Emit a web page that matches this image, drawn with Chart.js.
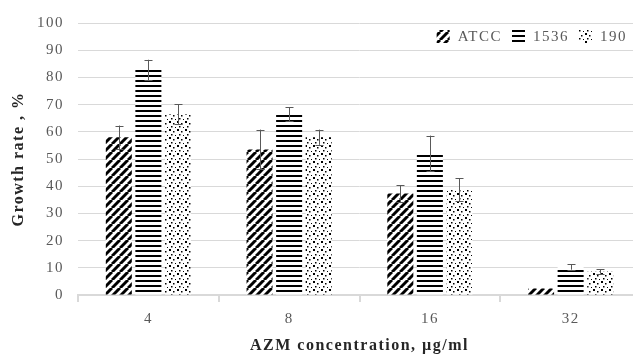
<!DOCTYPE html>
<html lang="en">
<head>
    <meta charset="UTF-8">
    <title>Growth rate vs AZM concentration</title>
    <style>
        html, body {
            margin: 0;
            padding: 0;
            background: #fff;
            overflow: hidden;
        }

        #chart-container {
            width: 643px;
            height: 355px;
        }
    </style>
</head>
<body>
    <div id="chart-container">
        <canvas id="growth-chart"></canvas>
    </div>
    <script src="https://cdn.jsdelivr.net/npm/chart.js"></script>
    <script>
    const categories = ['4', '8', '16', '32'];
    const seriesNames = ['ATCC', '1536', '190'];
    const atccValues = [58, 53.5, 37.3, 2.4];
    const atccErrors = [4.3, 7.3, 3.1, 0];
    const s1536Values = [82.7, 66.4, 52.1, 10.3];
    const s1536Errors = [3.8, 2.6, 6.5, 1.0];
    const s190Values = [66.4, 58, 38.7, 8.6];
    const s190Errors = [3.7, 2.8, 4.3, 0.8];
    const yTicks = [0, 10, 20, 30, 40, 50, 60, 70, 80, 90, 100];

    // little tiles for the fill patterns
    function makePattern(kind) {
        const c = document.createElement('canvas');
        const g = c.getContext('2d');
        if (kind === 'diag') {
            c.width = 8; c.height = 8;
            g.fillStyle = '#fff'; g.fillRect(0, 0, 8, 8);
            g.strokeStyle = '#000'; g.lineWidth = 3;
            for (let k = -8; k <= 16; k += 8) {
                g.beginPath();
                g.moveTo(k, 8);
                g.lineTo(k + 8, 0);
                g.stroke();
            }
        } else if (kind === 'hlines') {
            c.width = 4; c.height = 5;
            g.fillStyle = '#fff'; g.fillRect(0, 0, 4, 5);
            g.fillStyle = '#000'; g.fillRect(0, 0, 4, 2);
        } else {
            c.width = 8; c.height = 8;
            g.fillStyle = '#fff'; g.fillRect(0, 0, 8, 8);
            g.fillStyle = '#000';
            g.fillRect(1, 1, 2, 2);
            g.fillRect(5, 3, 1.5, 1.5);
            g.fillRect(3, 6, 1.5, 1.5);
            g.fillRect(7, 7, 1, 1);
        }
        return g.createPattern(c, 'repeat');
    }

    // the source rendering has loose letter spacing everywhere
    const spacing = {
        id: 'spacing',
        beforeLayout(chart) { chart.ctx.letterSpacing = '1.5px'; },
        beforeDraw(chart) { chart.ctx.letterSpacing = '1.5px'; }
    };

    const errorBars = {
        id: 'errorBars',
        afterDatasetsDraw(chart) {
            const ctx = chart.ctx;
            const y = chart.scales.y;
            ctx.save();
            ctx.strokeStyle = '#595959';
            ctx.lineWidth = 1;
            chart.data.datasets.forEach((ds, i) => {
                const meta = chart.getDatasetMeta(i);
                meta.data.forEach((bar, j) => {
                    const e = ds.errors[j];
                    if (!e) return;
                    const top = y.getPixelForValue(ds.data[j] + e);
                    const bot = y.getPixelForValue(ds.data[j] - e);
                    const x = Math.round(bar.x) + 0.5;
                    ctx.beginPath();
                    ctx.moveTo(x, top); ctx.lineTo(x, bot);
                    ctx.moveTo(x - 4, Math.round(top) + 0.5); ctx.lineTo(x + 4, Math.round(top) + 0.5);
                    ctx.moveTo(x - 4, Math.round(bot) + 0.5); ctx.lineTo(x + 4, Math.round(bot) + 0.5);
                    ctx.stroke();
                });
            });
            ctx.restore();
        }
    };

    // legend drawn inside the plot, top right
    const insideLegend = {
        id: 'insideLegend',
        afterDraw(chart) {
            const ctx = chart.ctx;
            const area = chart.chartArea;
            ctx.save();
            ctx.font = '15px "Liberation Serif"';
            ctx.textBaseline = 'middle';
            const cy = area.top + 13;
            let x = 627;
            const items = chart.data.datasets.slice().reverse();
            items.forEach((ds) => {
                const w = ctx.measureText(ds.label).width;
                x -= w;
                ctx.fillStyle = '#595959';
                ctx.fillText(ds.label, x, cy + 1);
                x -= 8 + 13;
                ctx.fillStyle = ds.backgroundColor;
                ctx.fillRect(x, cy - 6, 13, 13);
                x -= 10;
            });
            ctx.restore();
        }
    };

    const ctx = document.getElementById('growth-chart').getContext('2d');
    const growthChart = new Chart(ctx, {
        type: 'bar',
        data: {
            labels: categories,
            datasets: [
                { label: seriesNames[0], data: atccValues, errors: atccErrors, backgroundColor: makePattern('diag') },
                { label: seriesNames[1], data: s1536Values, errors: s1536Errors, backgroundColor: makePattern('hlines') },
                { label: seriesNames[2], data: s190Values, errors: s190Errors, backgroundColor: makePattern('dots') }
            ]
        },
        options: {
            responsive: true,
            maintainAspectRatio: false,
            animation: false,
            layout: { padding: { top: 21, right: 2, left: 0, bottom: 0 } },
            datasets: {
                bar: { categoryPercentage: 0.63, barPercentage: 0.88, borderWidth: 0 }
            },
            plugins: {
                tooltip: { enabled: false },
                legend: { display: false }
            },
            scales: {
                x: {
                    grid: { drawOnChartArea: false, color: '#d9d9d9', tickLength: 7, lineWidth: 2 },
                    border: { color: '#d9d9d9', width: 2 },
                    ticks: { color: '#595959', padding: 8, font: { family: 'Liberation Serif', size: 15 } },
                    title: {
                        display: true,
                        text: 'AZM concentration, µg/ml',
                        color: '#262626',
                        padding: { top: 7, bottom: 0 },
                        font: { family: 'Liberation Serif', size: 16, weight: 'bold' }
                    },
                    afterFit(scale) { scale.height = 60; }
                },
                y: {
                    min: 0,
                    max: 100,
                    afterBuildTicks(scale) { scale.ticks = yTicks.map(v => ({ value: v })); },
                    grid: { color: '#d9d9d9', lineWidth: 1, drawTicks: false },
                    border: { display: false },
                    ticks: { color: '#595959', padding: 14, font: { family: 'Liberation Serif', size: 15 } },
                    title: {
                        display: true,
                        text: 'Growth rate , %',
                        color: '#262626',
                        padding: { top: 9, bottom: 0 },
                        font: { family: 'Liberation Serif', size: 16, weight: 'bold' }
                    },
                    afterFit(scale) { scale.width = 78; }
                }
            }
        },
        plugins: [spacing, errorBars, insideLegend]
    });
    </script>
</body>
</html>
